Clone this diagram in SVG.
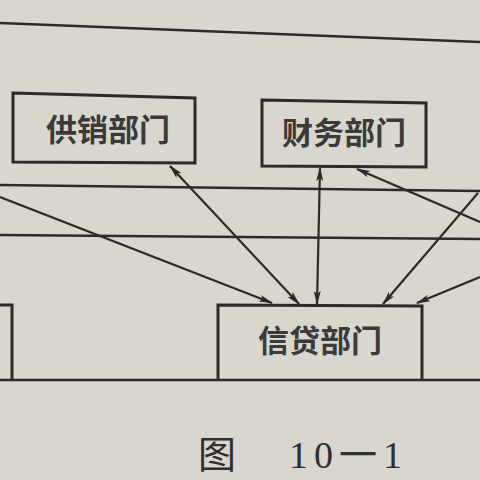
<svg xmlns="http://www.w3.org/2000/svg" width="480" height="480" viewBox="0 0 480 480">
<style>
.box{fill:none;stroke:#2b2b2b;stroke-width:3}
.ln{fill:none;stroke:#2b2b2b;stroke-width:2.5}
.ar{fill:none;stroke:#2b2b2b;stroke-width:2.2}
.t{font-family:"Noto Sans CJK SC","Noto Sans CJK JP",sans-serif;font-size:31px;font-weight:600;fill:#3a3a3a;text-anchor:middle}
.cap{font-family:"Liberation Serif","Noto Sans CJK SC",serif;font-size:38px;fill:#2f2f2f}
</style>
<defs>
<marker id="ah" viewBox="0 0 14 8" refX="13" refY="4" markerWidth="14" markerHeight="8" markerUnits="userSpaceOnUse" orient="auto-start-reverse">
<path d="M0,0.5 L14,4 L0,7.5 L3,4 Z" fill="#2b2b2b"/>
</marker>
</defs>
<rect width="480" height="480" fill="#d8d6cd"/>
<g id="frame">
<path class="ln" d="M0,23 L480,42"/>
<path class="ln" d="M0,185 L480,191"/>
<path class="ln" d="M0,235 L480,239"/>
<path class="ln" d="M0,380 L480,380"/>
</g>
<g id="node-gongxiao">
<path class="box" d="M13,93 L195,98 L195,163 L13,162 Z"/>
<text class="t" x="108" y="141">供销部门</text>
</g>
<g id="node-caiwu">
<path class="box" d="M262,100 L426,103 L426,167 L262,166 Z"/>
<text class="t" x="344" y="144">财务部门</text>
</g>
<g id="node-xindai">
<path class="box" d="M218,380 L218,305 L422,306 L422,380"/>
<text class="t" x="320" y="352">信贷部门</text>
</g>
<g id="node-left">
<path class="box" d="M0,305 L12,305 L12,380"/>
</g>
<g id="connectors">
<path class="ar" d="M0,197 L272,303" marker-end="url(#ah)"/>
<path class="ar" d="M170,166 L299,304" marker-start="url(#ah)" marker-end="url(#ah)"/>
<path class="ar" d="M320,168 L317,304" marker-start="url(#ah)" marker-end="url(#ah)"/>
<path class="ar" d="M357,169 L480,222" marker-start="url(#ah)"/>
<path class="ar" d="M478,193 L383,304" marker-end="url(#ah)"/>
<path class="ar" d="M480,277 L417,303" marker-end="url(#ah)"/>
</g>
<g id="caption">
<text class="cap" x="198" y="468" font-family="Noto Sans CJK SC, sans-serif">图</text>
<text class="cap" x="289" y="468" letter-spacing="6">10一1</text>
</g>
</svg>
